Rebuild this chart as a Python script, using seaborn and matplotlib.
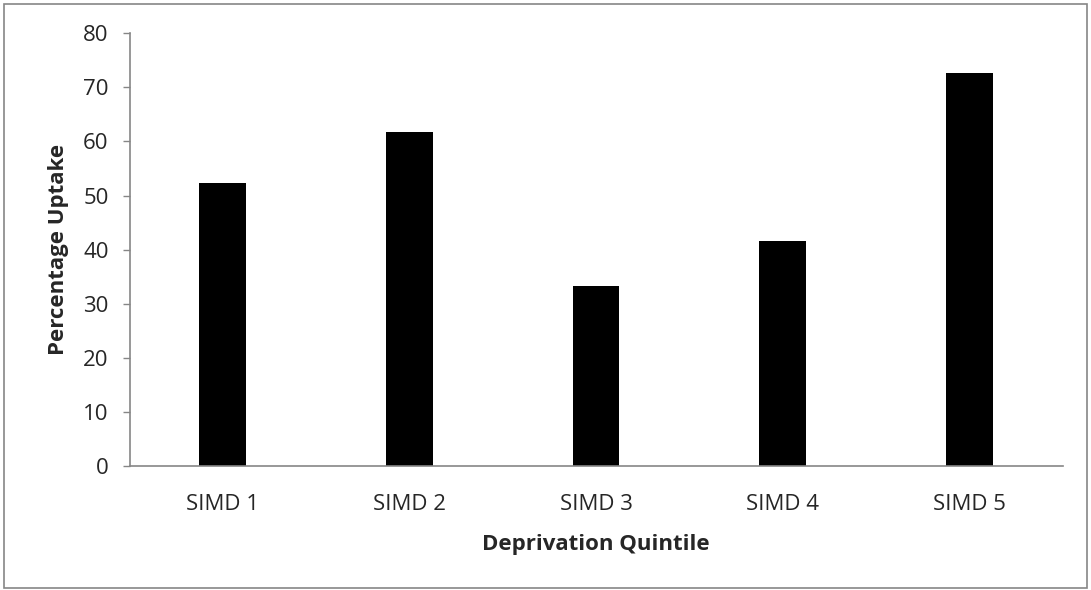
import matplotlib
matplotlib.use("Agg")
import matplotlib.pyplot as plt
import seaborn as sns
import pandas as pd
from matplotlib.patches import Rectangle

categories = ["SIMD 1", "SIMD 2", "SIMD 3", "SIMD 4", "SIMD 5"]
uptake = [52.4, 61.7, 33.3, 41.6, 72.7]
y_ticks = [0, 10, 20, 30, 40, 50, 60, 70, 80]

sns.set_style("white")
plt.rcParams['font.family'] = ['Open Sans', 'DejaVu Sans']

df = pd.DataFrame({"quintile": categories, "uptake": uptake})

fig = plt.figure(figsize=(10.91, 5.90), dpi=100)
ax = fig.add_axes([0.1187, 0.2102, 0.974 - 0.1187, 0.9436 - 0.2102])

sns.barplot(data=df, x="quintile", y="uptake", color="black", width=0.25,
            saturation=1, ax=ax, edgecolor="black", linewidth=0)

ax.set_ylim(0, 80)
ax.set_xlim(-0.5, 4.5)
ax.set_yticks(y_ticks)
ax.set_yticklabels([str(t) for t in y_ticks], fontsize=16)
ax.tick_params(axis="y", which="both", left=True, length=5, width=1,
               color="#868686", pad=10)
ax.tick_params(axis="x", bottom=False, labelsize=16, pad=17)

for s in ["top", "right"]:
    ax.spines[s].set_visible(False)
for s in ["left", "bottom"]:
    ax.spines[s].set_color("#868686")
    ax.spines[s].set_linewidth(1.2)

ax.set_xlabel("Deprivation Quintile", fontsize=16, fontweight="bold", labelpad=13)
ax.set_ylabel("Percentage Uptake", fontsize=16, fontweight="bold", labelpad=10)

fig.patches.append(Rectangle((0.004, 0.004), 0.992, 0.99, transform=fig.transFigure,
                             fill=False, edgecolor="#868686", linewidth=1.2))

fig.savefig("out.png", dpi=100, facecolor="white")
